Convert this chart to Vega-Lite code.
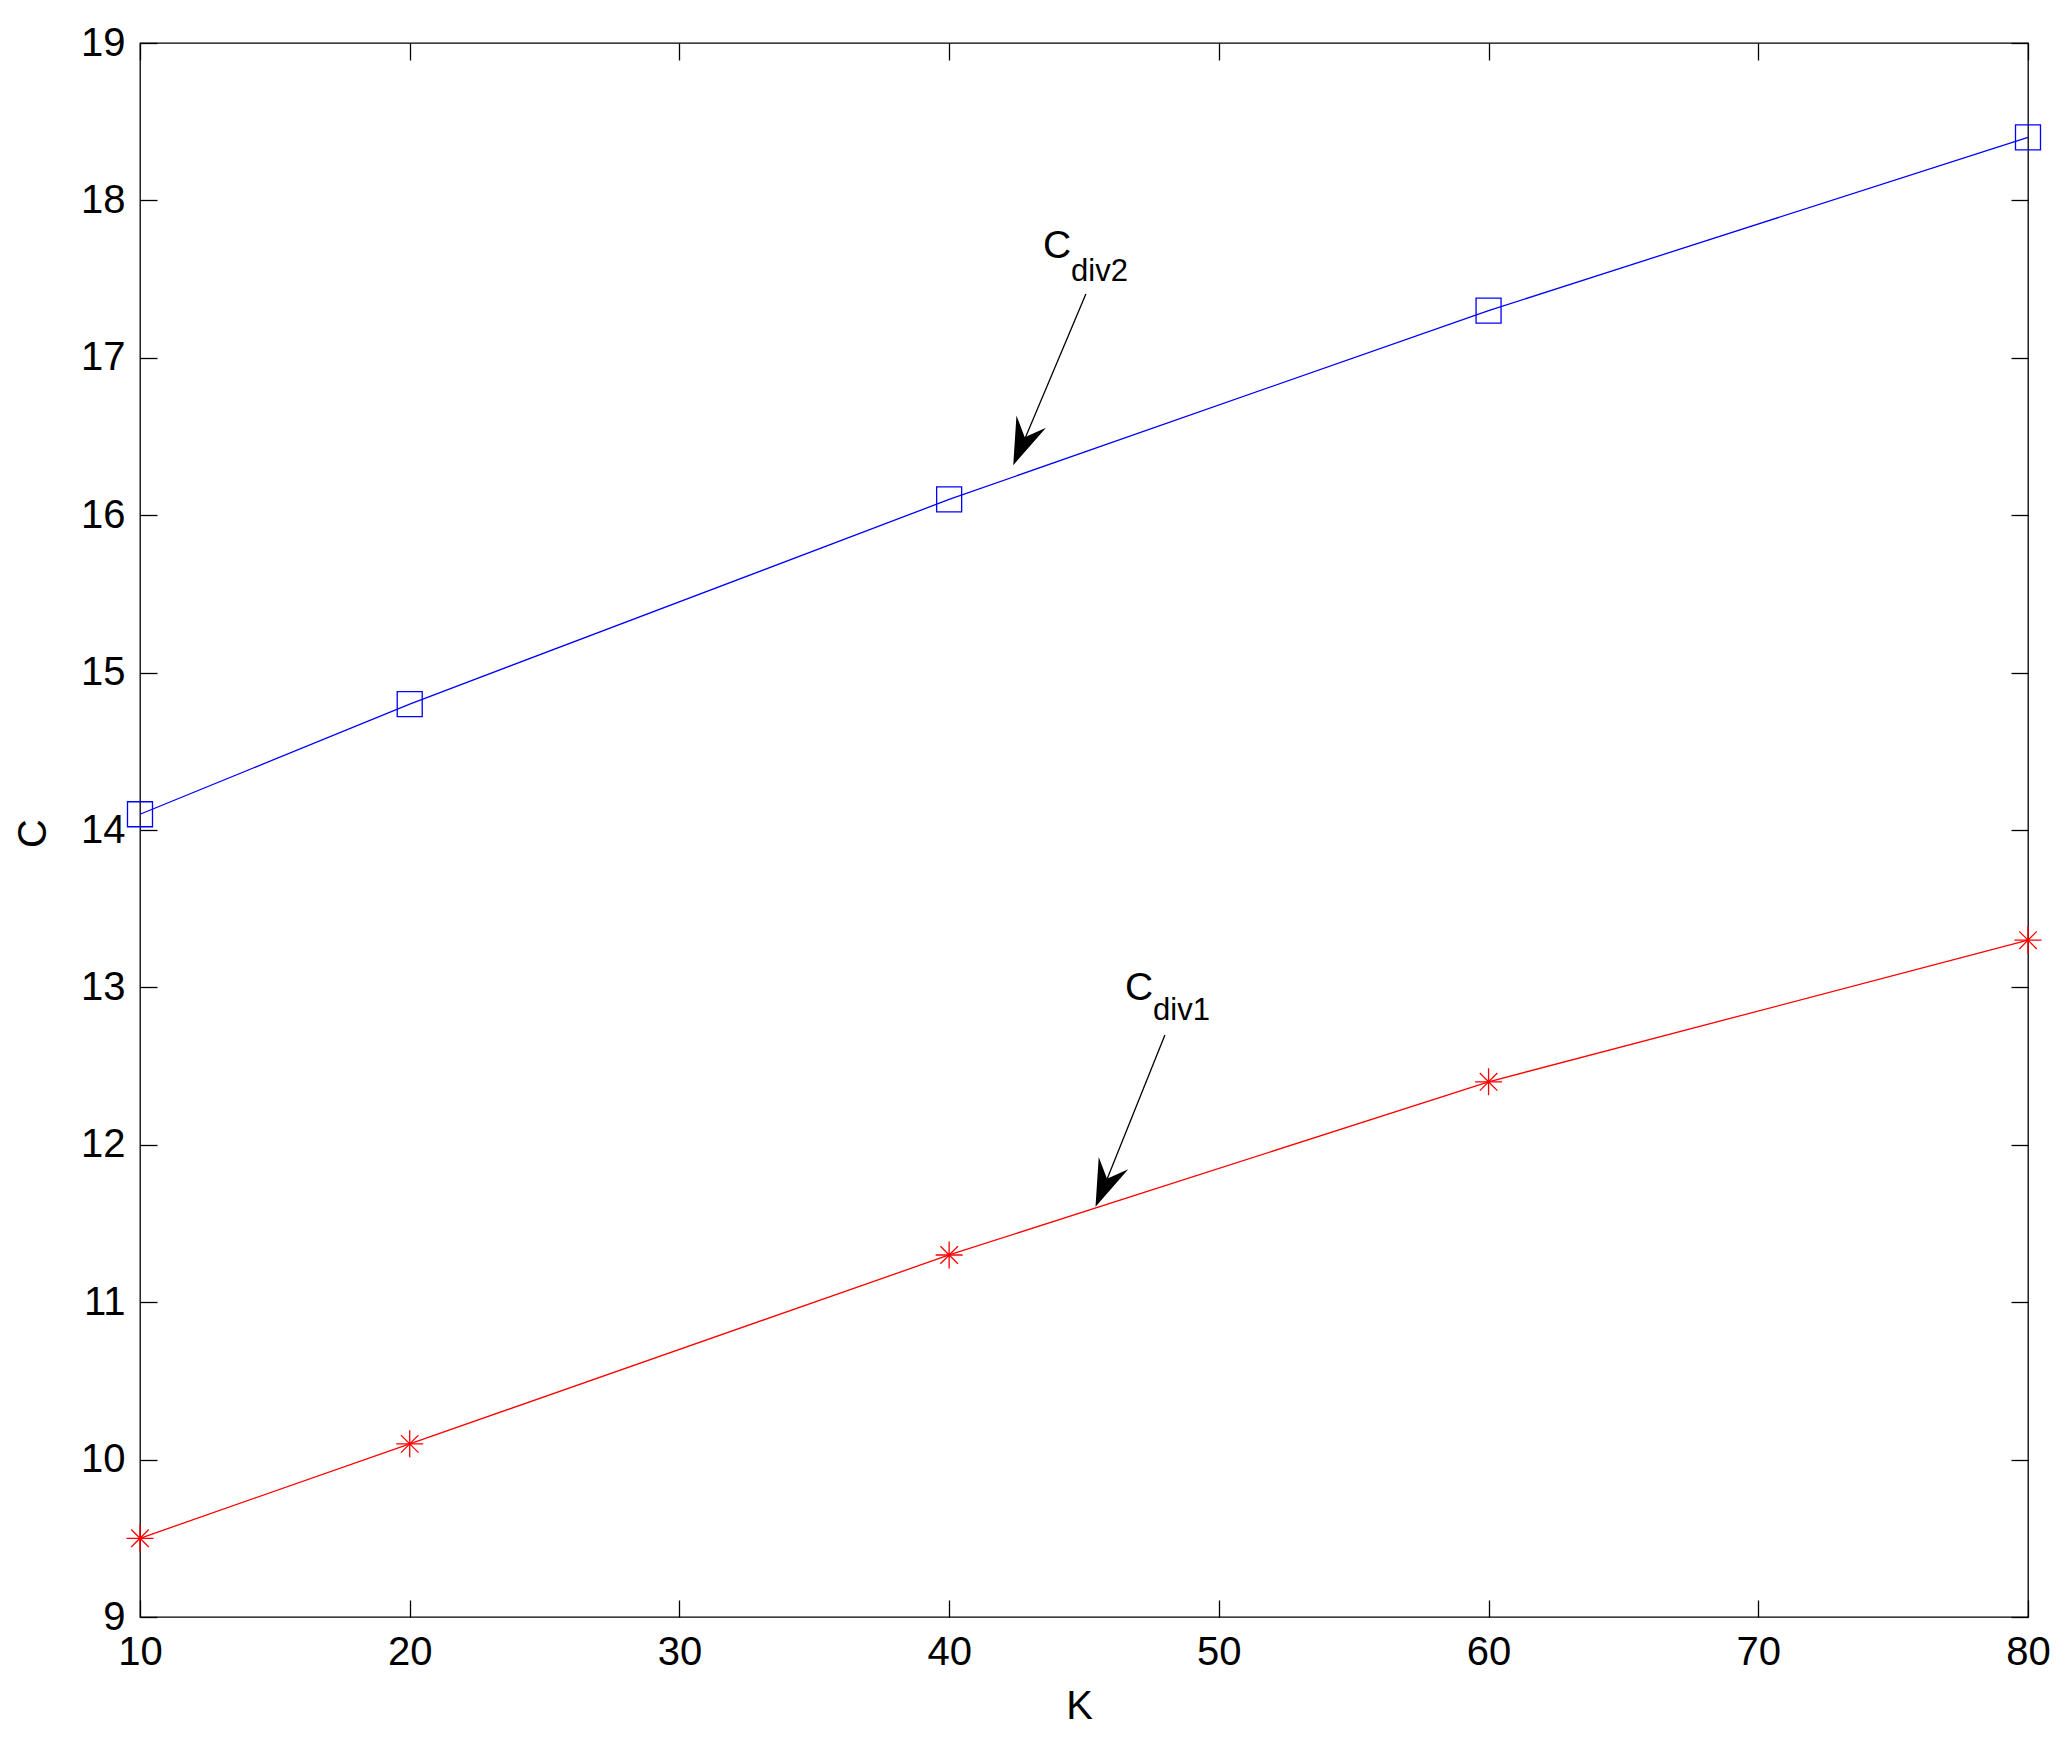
{
  "$schema": "https://vega.github.io/schema/vega-lite/v6.json",
  "width": 1888,
  "height": 1574,
  "autosize": "none",
  "padding": {"left": 140, "top": 43, "right": 43, "bottom": 128},
  "background": "white",
  "config": {
    "view": {"stroke": "black", "strokeWidth": 1.3},
    "font": "Liberation Sans",
    "axis": {
      "domain": false,
      "grid": false,
      "tickColor": "black",
      "tickWidth": 1.3,
      "tickSize": -17,
      "labelColor": "black",
      "labelFont": "Liberation Sans",
      "labelFontSize": 40,
      "labelFlush": false,
      "labelOverlap": false,
      "titleFont": "Liberation Sans",
      "titleFontSize": 40,
      "titleFontWeight": "normal",
      "titleColor": "black"
    }
  },
  "datasets": {
    "series": [
      {"K": 10, "C": 14.1, "series": "div2"},
      {"K": 20, "C": 14.8, "series": "div2"},
      {"K": 40, "C": 16.1, "series": "div2"},
      {"K": 60, "C": 17.3, "series": "div2"},
      {"K": 80, "C": 18.4, "series": "div2"},
      {"K": 10, "C": 9.5, "series": "div1"},
      {"K": 20, "C": 10.1, "series": "div1"},
      {"K": 40, "C": 11.3, "series": "div1"},
      {"K": 60, "C": 12.4, "series": "div1"},
      {"K": 80, "C": 13.3, "series": "div1"}
    ],
    "arrows": [
      {"x": 45.07, "y": 17.405, "x2": 42.45, "y2": 16.34},
      {"x": 48.0, "y": 12.698, "x2": 45.5, "y2": 11.63}
    ],
    "heads": [
      {"x": 42.71, "y": 16.456},
      {"x": 45.76, "y": 11.745}
    ],
    "labels": [
      {"x": 43.48, "y": 17.635, "text": "C", "part": "main"},
      {"x": 44.52, "y": 17.49, "text": "div2", "part": "sub"},
      {"x": 46.52, "y": 12.92, "text": "C", "part": "main"},
      {"x": 47.56, "y": 12.795, "text": "div1", "part": "sub"}
    ]
  },
  "resolve": {"axis": {"x": "independent", "y": "independent"}},
  "layer": [
    {
      "data": {"name": "series"},
      "mark": {"type": "line", "strokeWidth": 1.3},
      "encoding": {
        "x": {
          "field": "K", "type": "quantitative",
          "scale": {"domain": [10, 80], "nice": false, "zero": false},
          "axis": {"orient": "bottom", "values": [10, 20, 30, 40, 50, 60, 70, 80], "labelPadding": 32, "title": "K", "titleX": 939, "titleY": 101, "titleBaseline": "alphabetic", "titleAlign": "center"}
        },
        "y": {
          "field": "C", "type": "quantitative",
          "scale": {"domain": [9, 19], "nice": false, "zero": false},
          "axis": {"orient": "left", "values": [9, 10, 11, 12, 13, 14, 15, 16, 17, 18, 19], "labelPadding": 32, "title": "C", "titleX": -107, "titleY": 790, "titleAngle": 270, "titleAlign": "center", "titleBaseline": "middle"}
        },
        "color": {
          "field": "series", "type": "nominal",
          "scale": {"domain": ["div2", "div1"], "range": ["#0000ff", "#ff0000"]},
          "legend": null
        }
      }
    },
    {
      "data": {"name": "series"},
      "transform": [{"filter": "datum.series === 'div2'"}],
      "mark": {"type": "point", "shape": "square", "filled": false, "size": 625, "stroke": "#0000ff", "strokeWidth": 1.3, "opacity": 1},
      "encoding": {
        "x": {"field": "K", "type": "quantitative", "axis": {"orient": "top", "values": [10, 20, 30, 40, 50, 60, 70, 80], "labels": false, "title": null}},
        "y": {"field": "C", "type": "quantitative", "axis": {"orient": "right", "values": [9, 10, 11, 12, 13, 14, 15, 16, 17, 18, 19], "labels": false, "title": null}}
      }
    },
    {
      "data": {"name": "series"},
      "transform": [{"filter": "datum.series === 'div1'"}],
      "mark": {"type": "point", "shape": "M-1,0L1,0M0,-1L0,1M-0.65,-0.65L0.65,0.65M-0.65,0.65L0.65,-0.65", "filled": false, "size": 729, "stroke": "#ff0000", "strokeWidth": 1.3, "opacity": 1},
      "encoding": {
        "x": {"field": "K", "type": "quantitative", "axis": null},
        "y": {"field": "C", "type": "quantitative", "axis": null}
      }
    },
    {
      "data": {"name": "arrows"},
      "mark": {"type": "rule", "color": "black", "strokeWidth": 1.3},
      "encoding": {
        "x": {"field": "x", "type": "quantitative", "axis": null},
        "y": {"field": "y", "type": "quantitative", "axis": null},
        "x2": {"field": "x2"},
        "y2": {"field": "y2"}
      }
    },
    {
      "data": {"name": "heads"},
      "mark": {"type": "point", "shape": "M0,-1L0.68,1L0,0.28L-0.68,1Z", "filled": true, "fill": "black", "stroke": null, "size": 2209, "angle": 202.5, "opacity": 1},
      "encoding": {
        "x": {"field": "x", "type": "quantitative", "axis": null},
        "y": {"field": "y", "type": "quantitative", "axis": null}
      }
    },
    {
      "data": {"name": "labels"},
      "transform": [{"filter": "datum.part === 'main'"}],
      "mark": {"type": "text", "font": "Liberation Sans", "fontSize": 39, "align": "left", "baseline": "alphabetic", "color": "black"},
      "encoding": {
        "x": {"field": "x", "type": "quantitative", "axis": null},
        "y": {"field": "y", "type": "quantitative", "axis": null},
        "text": {"field": "text"}
      }
    },
    {
      "data": {"name": "labels"},
      "transform": [{"filter": "datum.part === 'sub'"}],
      "mark": {"type": "text", "font": "Liberation Sans", "fontSize": 31, "align": "left", "baseline": "alphabetic", "color": "black"},
      "encoding": {
        "x": {"field": "x", "type": "quantitative", "axis": null},
        "y": {"field": "y", "type": "quantitative", "axis": null},
        "text": {"field": "text"}
      }
    }
  ]
}
